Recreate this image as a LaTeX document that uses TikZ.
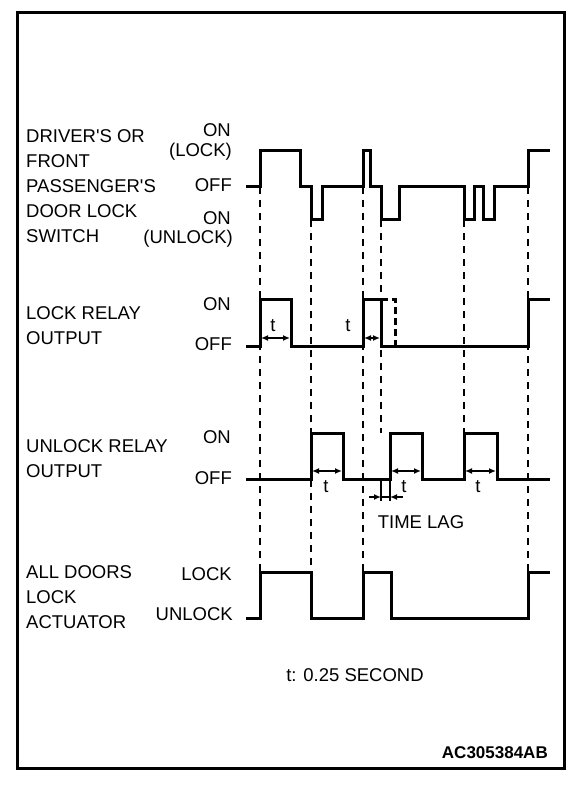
\documentclass[tikz,border=0pt]{standalone}
\usepackage{fontspec}
\setmainfont{Liberation Sans}
\usetikzlibrary{arrows.meta}

\tikzset{
    signal/.style={line width=3pt, line join=miter},
    guide/.style={line width=1.8pt, dash pattern=on 7pt off 6pt},
    lbl/.style={font=\fontsize{18.5}{25}\selectfont, inner sep=0pt},
    lvl/.style={lbl, anchor=east},
    tdim/.style={line width=1.6pt, {Latex[length=7pt,width=6pt]}-{Latex[length=7pt,width=6pt]}},
}
\newcommand{\apos}{\textquotesingle}

\begin{document}
\begin{tikzpicture}[x=1pt, y=-1pt]
                \useasboundingbox (0,0) rectangle (576,786);

                % Frame
                \draw[line width=3pt] (17,13) rectangle (564,768);

                % Guide lines
                \draw[guide] (260,187) -- (260,572);
                \draw[guide] (311,220) -- (311,572);
                \draw[guide] (363,187) -- (363,572);
                \draw[guide] (381,220) -- (381,433);
                \draw[guide] (464,220) -- (464,433);
                \draw[guide] (528,187) -- (528,572);

                % Door lock switch
                \draw[signal] (246,187) -- (260,187) -- (260,151) -- (300,151) -- (300,187)
                    -- (311,187) -- (311,220) -- (322,220) -- (322,187) -- (363,187)
                    -- (363,151) -- (370,151) -- (370,187) -- (381,187) -- (381,220)
                    -- (399,220) -- (399,187) -- (464,187) -- (464,220) -- (474,220)
                    -- (474,187) -- (483,187) -- (483,220) -- (494,220) -- (494,187)
                    -- (528,187) -- (528,151) -- (550,151);

                % Lock relay output
                \draw[signal] (246,346) -- (260,346) -- (260,299) -- (291,299) -- (291,346)
                    -- (363,346) -- (363,299) -- (381,299) -- (381,346) -- (528,346)
                    -- (528,299) -- (550,299);
                \draw[signal, dash pattern=on 7pt off 4pt] (381,299) -- (395,299) -- (395,346);

                % Unlock relay output
                \draw[signal] (246,479) -- (311,479) -- (311,433) -- (343,433) -- (343,479)
                    -- (390,479) -- (390,433) -- (422,433) -- (422,479) -- (464,479)
                    -- (464,433) -- (497,433) -- (497,479) -- (550,479);

                % Door lock actuator
                \draw[signal] (246,618) -- (260,618) -- (260,572) -- (311,572) -- (311,618)
                    -- (363,618) -- (363,572) -- (391,572) -- (391,618) -- (528,618)
                    -- (528,572) -- (550,572);

                % t marks
                \draw[tdim] (261,338) -- (290,338);
                \node[lbl] (t1) at (273,326) {t};
                \draw[tdim] (364,338) -- (380,338);
                \node[lbl] (t2) at (348,326) {t};
                \draw[tdim] (312,471) -- (342,471);
                \node[lbl] (t3) at (326,487) {t};
                \draw[tdim] (391,471) -- (421,471);
                \node[lbl] (t4) at (404,487) {t};
                \draw[tdim] (465,471) -- (496,471);
                \node[lbl] (t5) at (478,487) {t};

                % Time lag
                \draw[line width=1.2pt] (381,481) -- (381,501);
                \draw[line width=1.2pt] (390,481) -- (390,501);
                \draw[line width=1.6pt, -{Latex[length=7pt,width=6pt]}] (369,497) -- (381,497);
                \draw[line width=1.6pt] (381,497) -- (390,497);
                \draw[line width=1.6pt, -{Latex[length=7pt,width=6pt]}] (403,497) -- (390,497);
                \node[lbl] (lag) at (421,522) {TIME LAG};

                % Signal names
                \node[lbl, anchor=west, align=left] (sw) at (26,186)
                    {DRIVER\apos S OR\\FRONT\\PASSENGER\apos S\\DOOR LOCK\\SWITCH};
                \node[lbl, anchor=west, align=left] (lr) at (26,326) {LOCK RELAY\\OUTPUT};
                \node[lbl, anchor=west, align=left] (ur) at (26,459) {UNLOCK RELAY\\OUTPUT};
                \node[lbl, anchor=west, align=left] (ac) at (26,597) {ALL DOORS\\LOCK\\ACTUATOR};

                % Levels
                \node[lvl] (swon) at (231,130) {ON};
                \node[lvl] (swlock) at (232,152) {(LOCK)};
                \node[lvl] (swoff) at (232,185) {OFF};
                \node[lvl] (swon2) at (231,218) {ON};
                \node[lvl] (swunlock) at (233,239) {(UNLOCK)};
                \node[lvl] (lron) at (231,304) {ON};
                \node[lvl] (lroff) at (232,344) {OFF};
                \node[lvl] (uron) at (231,437) {ON};
                \node[lvl] (uroff) at (232,478) {OFF};
                \node[lvl] (aclock) at (232,574) {LOCK};
                \node[lvl] (acunlock) at (233,614) {UNLOCK};

                % Notes
                \node[lbl] (note) at (355,675) {t: 0.25 SECOND};
                \node[lbl, anchor=east, font=\fontsize{17}{20}\selectfont\bfseries] (code) at (548,753) {AC305384AB};
            \end{tikzpicture}
\end{document}
